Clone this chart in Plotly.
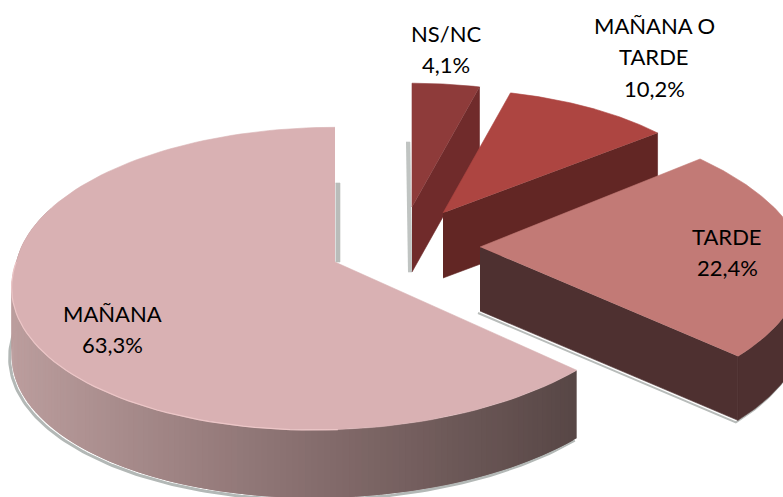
import numpy as np
import plotly.graph_objects as go

# ---- data ----
categories = ["NS/NC", "MAÑANA O TARDE", "TARDE", "MAÑANA"]
values = [4.1, 10.2, 22.4, 63.3]
label_lines = [["NS/NC"], ["MAÑANA O", "TARDE"], ["TARDE"], ["MAÑANA"]]

# ---- styling / 3D projection of each wedge ----
top_colors = ["#8e3b3a", "#ad4541", "#c27a76", "#d9b1b3"]
side_colors = ["#702b2b", "#622624", "#4e3030", None]
apex_x = [412, 443, 480, 335]
apex_y = [207, 213, 247, 262]
scale = [0.91, 0.91, 1.0, 0.99]
shear_back = [0, 0, -27, 0]
shear_front = [0, 0, 0, 19]
depth = [65, 65, 64, 68]
label_x = [445.5, 654, 727, 112]
label_y = [33, 25, 236, 313]
LINE_STEP = 31.5
RX, RY, K = 322, 151, 0.11
W, H = 783, 497


def project(i, ang, r=1.0):
    X = r * np.sin(ang)
    Y = r * np.cos(ang)
    w = 1 + K * Y
    sh = np.where(Y > 0, shear_back[i], shear_front[i])
    px = apex_x[i] + scale[i] * (RX * X + sh * Y) / w
    py = apex_y[i] - scale[i] * RY * Y / w
    return px, py


def poly(fig, xs, ys, color, lw=0.6):
    fig.add_trace(go.Scatter(
        x=list(xs), y=list(ys), mode="lines", fill="toself", fillcolor=color,
        line=dict(color=color, width=lw), hoverinfo="skip", showlegend=False))


def mix(a, b, t):
    return tuple(a[k] + (b[k] - a[k]) * t for k in range(3))


total = sum(values)
edges = np.radians(np.concatenate([[0], np.cumsum(values)]) / total * 360)

fig = go.Figure()

# thin grey shadows left by the wedges
poly(fig, [335.5, 340, 340, 335.5], [183, 183, 262, 262], "#b9bcba")
poly(fig, [406, 410, 412, 408], [142, 142, 272, 272], "#c0c4c2")

for i in range(len(values)):
    a0, a1 = edges[i], edges[i + 1]
    ang = np.linspace(a0, a1, 120)
    px, py = project(i, ang)
    d = depth[i]
    ax, ay = apex_x[i], apex_y[i]
    if i < 3:
        if i == 2:
            mask = np.cos(ang) < 0.15
            sx, sy = px[mask], py[mask]
            fig.add_trace(go.Scatter(
                x=[ax - 2] + list(sx[::-1] - 2), y=[ay + d + 2] + list(sy[::-1] + d + 2),
                mode="lines", line=dict(color="#b8bcba", width=2),
                hoverinfo="skip", showlegend=False))
            poly(fig, list(sx) + list(sx[::-1]), list(sy) + list(sy[::-1] + d), side_colors[i])
        poly(fig, [ax, px[-1], px[-1], ax], [ay, py[-1], py[-1] + d, ay + d], side_colors[i])
        poly(fig, [ax] + list(px), [ay] + list(py), top_colors[i])
    else:
        rim = np.linspace(a0, np.radians(292), 160)
        rx, ry = project(i, rim)
        fig.add_trace(go.Scatter(
            x=list(rx - 2), y=list(ry + d + 2), mode="lines",
            line=dict(color="#b3b8b6", width=3), hoverinfo="skip", showlegend=False))
        dark, mid, light = (88, 71, 70), (138, 113, 113), (188, 158, 158)
        span = rx.max() - rx.min()
        for j in range(len(rim) - 2):
            t = 1 - (rx[j] - rx.min()) / span
            c = mix(light, mid, (1 - t) / 0.5) if t > 0.5 else mix(mid, dark, (0.5 - t) / 0.5)
            col = "rgb(%d,%d,%d)" % c
            # each strip overlaps the next so that no seams appear
            poly(fig, [rx[j], rx[j + 2], rx[j + 2], rx[j]],
                 [ry[j], ry[j + 2], ry[j + 2] + d, ry[j] + d], col, lw=0)
        poly(fig, [ax] + list(px), [ay] + list(py), top_colors[i])
        front = (np.cos(ang) < 0) & (ang > np.radians(175))
        fig.add_trace(go.Scatter(
            x=list(px[front]), y=list(py[front]), mode="lines",
            line=dict(color="#ecc6c7", width=1.2), hoverinfo="skip", showlegend=False))

# data labels
for i in range(len(values)):
    lines = label_lines[i] + [f"{values[i]:.1f}%".replace(".", ",")]
    for n, t in enumerate(lines):
        fig.add_annotation(x=label_x[i], y=label_y[i] + n * LINE_STEP, text=t, showarrow=False,
                           xanchor="center", yanchor="middle",
                           font=dict(family="Lato, sans-serif", size=22, color="#000000"))

fig.update_layout(
    width=W, height=H, margin=dict(l=0, r=0, t=0, b=0),
    paper_bgcolor="white", plot_bgcolor="white", showlegend=False,
    xaxis=dict(range=[0, W], visible=False, fixedrange=True),
    yaxis=dict(range=[H, 0], visible=False, fixedrange=True),
)
fig.write_html("out.html", config={"displayModeBar": False},
               post_script="document.body.style.margin='0';document.documentElement.style.overflow='hidden';")
